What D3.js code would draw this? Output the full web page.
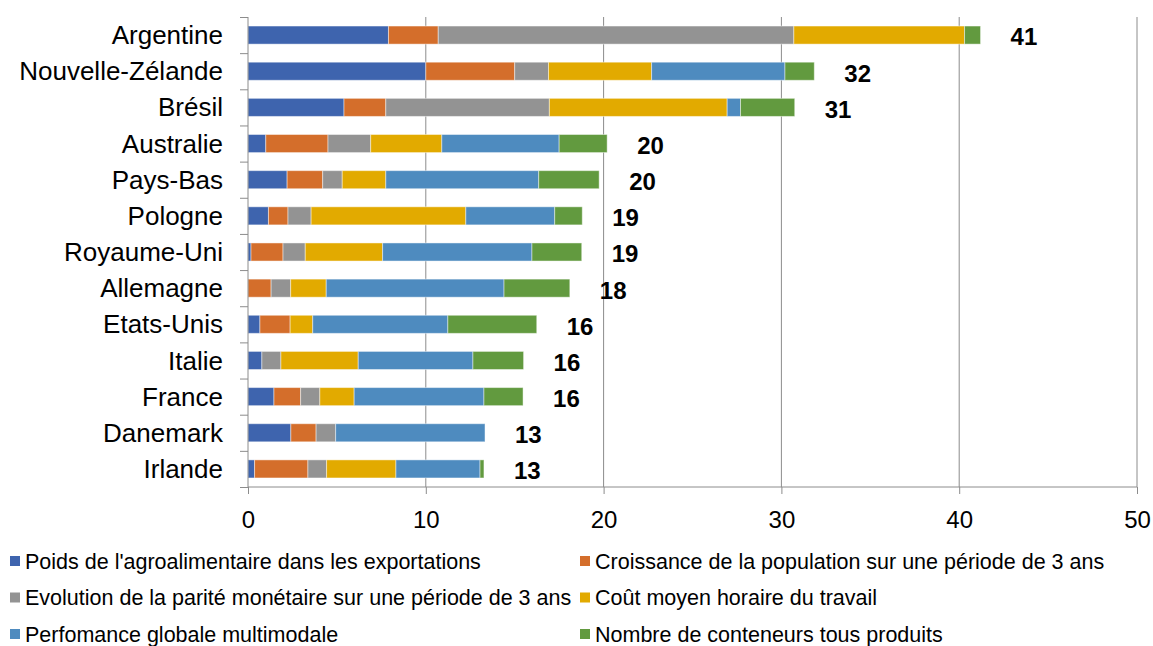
<!DOCTYPE html>
<html>
<head>
<meta charset="utf-8">
<script src="https://cdn.jsdelivr.net/npm/d3@7"></script>
<style>
  body { margin: 0; background: #fff; }
  svg { font-family: "Liberation Sans", Arial, sans-serif; }
</style>
</head>
<body>
<div id="chart"></div>
<script>
const countries = ['Argentine', 'Nouvelle-Zélande', 'Brésil', 'Australie', 'Pays-Bas', 'Pologne',
  'Royaume-Uni', 'Allemagne', 'Etats-Unis', 'Italie', 'France', 'Danemark', 'Irlande']

const poids = [7.9, 10.0, 5.4, 1.0, 2.2, 1.15, 0.17, 0, 0.67, 0.78, 1.46, 2.41, 0.37]
const croissance = [2.8, 5.0, 2.35, 3.5, 2.0, 1.1, 1.8, 1.3, 1.7, 0, 1.5, 1.42, 3.0]
const parite = [20.0, 1.9, 9.2, 2.4, 1.1, 1.3, 1.25, 1.1, 0, 1.07, 1.08, 1.1, 1.05]
const cout = [9.6, 5.8, 10.0, 4.0, 2.45, 8.7, 4.35, 2.0, 1.27, 4.35, 1.93, 0, 3.9]
const perf = [0, 7.5, 0.75, 6.6, 8.6, 5.0, 8.4, 10.0, 7.6, 6.45, 7.3, 8.4, 4.73]
const conteneurs = [0.9, 1.65, 3.05, 2.7, 3.4, 1.55, 2.8, 3.7, 5.0, 2.85, 2.2, 0, 0.22]

const totals = [41, 32, 31, 20, 20, 19, 19, 18, 16, 16, 16, 13, 13]
const xTicks = [0, 10, 20, 30, 40, 50]

const seriesNames = [
  "Poids de l'agroalimentaire dans les exportations",
  'Croissance de la population sur une période de 3 ans',
  'Evolution de la parité monétaire sur une période de 3 ans',
  'Coût moyen horaire du travail',
  'Perfomance globale multimodale',
  'Nombre de conteneurs tous produits'
]
const seriesValues = [poids, croissance, parite, cout, perf, conteneurs]
const colors = ['#3e64ae', '#d46e2b', '#939393', '#e2aa00', '#4e8bbf', '#629a3f']

const W = 1153, H = 646
const margin = { top: 17, right: 16, bottom: 159, left: 248 }
const width = W - margin.left - margin.right
const height = H - margin.top - margin.bottom

const svg = d3.select('#chart').append('svg')
  .attr('width', W).attr('height', H)

const g = svg.append('g')
  .attr('transform', `translate(${margin.left},${margin.top})`)

const x = d3.scaleLinear().domain([0, 50]).range([0, width])
const y = d3.scaleBand().domain(countries).range([0, height]).paddingInner(0.5).paddingOuter(0.25)

// build rows for the stack
const rows = countries.map((c, i) => {
  const row = { country: c }
  seriesNames.forEach((s, j) => { row[s] = seriesValues[j][i] })
  return row
})
const stacked = d3.stack().keys(seriesNames)(rows)

// gridlines
g.append('g')
  .selectAll('line')
  .data(xTicks.slice(1))
  .join('line')
  .attr('x1', d => x(d)).attr('x2', d => x(d))
  .attr('y1', 0).attr('y2', height)
  .attr('stroke', '#8c8c8c').attr('stroke-width', 1)

// bars
g.append('g')
  .selectAll('g')
  .data(stacked)
  .join('g')
  .attr('fill', (d, i) => colors[i])
  .selectAll('rect')
  .data(d => d.filter(p => p[1] - p[0] > 0))
  .join('rect')
  .attr('x', d => x(d[0]))
  .attr('y', d => y(d.data.country))
  .attr('width', d => x(d[1]) - x(d[0]))
  .attr('height', y.bandwidth())
  .attr('stroke', '#fff').attr('stroke-opacity', 0.45).attr('stroke-width', 1)

// totals
const sums = rows.map(r => d3.sum(seriesNames, s => r[s]))
g.append('g')
  .selectAll('text')
  .data(countries)
  .join('text')
  .attr('x', (d, i) => x(sums[i]) + 30)
  .attr('y', d => y(d) + y.bandwidth() / 2 + 2)
  .attr('dy', '0.35em')
  .attr('font-size', 24).attr('font-weight', 'bold')
  .text((d, i) => totals[i])

// y axis
const yAxis = g.append('g')
  .call(d3.axisLeft(d3.scalePoint().domain(d3.range(14)).range([0, height])).tickSize(8).tickFormat(''))
yAxis.selectAll('line, path').attr('stroke', '#8c8c8c')
yAxis.select('.domain').attr('d', `M0,0V${height}`)

g.append('g')
  .selectAll('text')
  .data(countries)
  .join('text')
  .attr('x', -25)
  .attr('y', d => y(d) + y.bandwidth() / 2)
  .attr('dy', '0.35em')
  .attr('text-anchor', 'end')
  .attr('font-size', 26)
  .text(d => d)

// x axis
const xAxis = g.append('g')
  .attr('transform', `translate(0,${height})`)
  .call(d3.axisBottom(x).tickValues(xTicks).tickSize(7).tickPadding(17))
xAxis.select('.domain').attr('d', `M0,0H${width}`)
xAxis.selectAll('line, path').attr('stroke', '#8c8c8c')
xAxis.selectAll('text').attr('font-size', 24).attr('font-family', 'Liberation Sans, Arial, sans-serif').attr('fill', '#000')

// legend
const legend = svg.append('g')
const legendPos = seriesNames.map((s, i) => ({ name: s, col: i % 2, row: Math.floor(i / 2), color: colors[i] }))
const item = legend.selectAll('g')
  .data(legendPos)
  .join('g')
  .attr('transform', d => `translate(${d.col ? 580 : 10},${561 + d.row * 36.5})`)
item.append('rect')
  .attr('x', 0).attr('y', -5).attr('width', 10).attr('height', 10)
  .attr('fill', d => d.color)
item.append('text')
  .attr('x', 15).attr('dy', '0.35em')
  .attr('font-size', 21.5)
  .text(d => d.name)
</script>
</body>
</html>
